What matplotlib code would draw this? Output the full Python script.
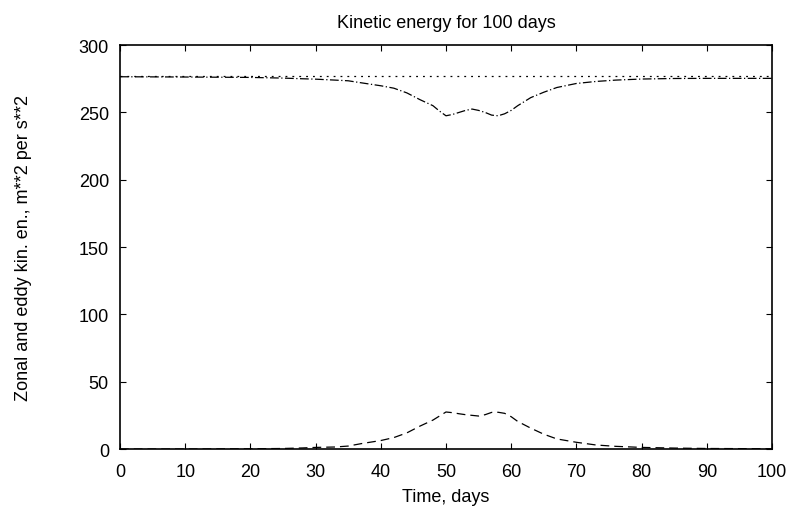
import matplotlib
matplotlib.use("Agg")
import matplotlib.pyplot as plt

plt.rcParams["font.family"] = ["Liberation Sans", "DejaVu Sans"]

# days and energies
days = [0, 10, 20, 25, 28, 30, 33, 35, 37, 40, 42, 44, 46, 48, 49, 50, 51, 52,
        53, 54, 55, 56, 57, 58, 59, 60, 61, 62, 63, 65, 67, 70, 73, 76, 80,
        85, 90, 95, 100]
zonal = [276.5, 276.3, 276, 275.5, 275, 274.7, 274, 273.5, 272, 269.8, 268,
         264.5, 259.5, 255, 251, 247.5, 248.5, 250, 251.5, 252.5, 251.5, 250,
         248, 247.5, 249, 251.5, 255, 258, 261, 265, 268.5, 271.5, 273, 274,
         274.8, 275.2, 275.3, 275.3, 275.3]
eddy = [0, 0, 0.2, 0.4, 0.8, 1.2, 1.5, 2.2, 4, 6.3, 8.5, 12, 17, 21.5, 24.5,
        27.5, 27, 26.2, 25.5, 25, 24.5, 25.5, 27.2, 27.3, 26.5, 24, 20.5, 18,
        15.5, 11, 7.5, 5, 3, 2, 1.2, 0.7, 0.4, 0.3, 0.2]
total = [277] * len(days)

fig = plt.figure(figsize=(7.9, 5.1), dpi=100)
ax = fig.add_axes([0.1519, 0.1176, 0.8253, 0.792])

ax.plot(days, total, color="black", lw=0.9, linestyle=(0, (1.5, 4)))
ax.plot(days, zonal, color="black", lw=0.9, linestyle=(0, (7, 2, 1, 2)))
ax.plot(days, eddy, color="black", lw=0.9, linestyle=(0, (7, 4)))

ax.set_xlim(0, 100)
ax.set_ylim(0, 300)
ax.set_xticks(range(0, 101, 10))
ax.set_yticks(range(0, 301, 50))
ax.tick_params(direction="in", top=True, right=True, labelsize=13, length=4)
ax.tick_params(axis="x", pad=10)
ax.tick_params(axis="y", pad=8)
for s in ax.spines.values():
    s.set_linewidth(1.2)

ax.set_title("Kinetic energy for 100 days", fontsize=13, pad=13)
ax.set_xlabel("Time, days", fontsize=13)
ax.set_ylabel("Zonal and eddy kin. en., m**2 per s**2", fontsize=13)
ax.xaxis.set_label_coords(0.5, -0.096)
ax.yaxis.set_label_coords(-0.135, 0.5)

fig.savefig("out.png", dpi=100)
